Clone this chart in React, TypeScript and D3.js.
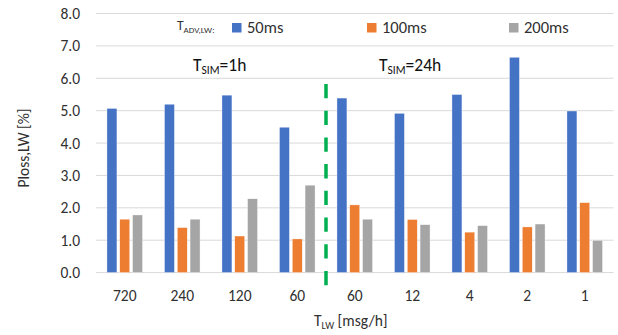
import React from 'react';
import * as d3 from 'd3';

const categories = ['720', '240', '120', '60', '60', '12', '4', '2', '1'];
const seriesNames = ['50ms', '100ms', '200ms'];
const values50 = [5.07, 5.2, 5.48, 4.49, 5.39, 4.92, 5.5, 6.65, 4.99];
const values100 = [1.65, 1.39, 1.13, 1.04, 2.09, 1.64, 1.25, 1.41, 2.16];
const values200 = [1.78, 1.65, 2.28, 2.7, 1.65, 1.48, 1.45, 1.5, 1.0];
const yTicks = [0, 1, 2, 3, 4, 5, 6, 7, 8];

const colors = ['#4472c4', '#ed7d31', '#a5a5a5'];
const FONT = 'Carlito, Calibri, Lato, sans-serif';
const TEXT = '#303030';

const App = () => {
  const width = 618;
  const height = 335;
  const left = 96;
  const right = 613.5;
  const top = 13.5;
  const bottom = 272.6;

  const series = [values50, values100, values200];

  const x0 = d3.scaleBand<number>()
    .domain(d3.range(categories.length))
    .range([left, right])
    .paddingInner(0.381)
    .paddingOuter(0.1905);

  const x1 = d3.scaleBand<number>()
    .domain(d3.range(seriesNames.length))
    .range([0, x0.bandwidth()])
    .paddingInner(0.219);

  const y = d3.scaleLinear().domain([0, 8]).range([bottom, top]);

  // divider between the 1h and 24h runs
  const divX = left + x0.step() * 4;

  const legendPos = [232, 367, 509];

  return (
    <svg width={width} height={height} style={{ position: 'absolute', left: 0, top: 0 }} fontFamily={FONT}>
      <rect width={width} height={height} fill="#fff" />
      {yTicks.map(t => (
        <g key={t}>
          <line x1={left} x2={right} y1={y(t)} y2={y(t)} stroke="#d9d9d9" strokeWidth={1} />
          <text x={80} y={y(t)} dy="0.36em" textAnchor="end" fontSize={15.5} fill={TEXT}>
            {t.toFixed(1)}
          </text>
        </g>
      ))}

      {categories.map((c, i) => (
        <g key={i} transform={`translate(${x0(i)},0)`}>
          {series.map((s, j) => (
            <rect
              key={j}
              x={x1(j)}
              y={y(s[i])}
              width={x1.bandwidth()}
              height={bottom - y(s[i])}
              fill={colors[j]}
              stroke="#fff"
              strokeWidth={0.4}
            />
          ))}
          <text x={x0.bandwidth() / 2} y={301} textAnchor="middle" fontSize={15.5} fill={TEXT}>
            {c}
          </text>
        </g>
      ))}

      <line x1={divX} x2={divX} y1={84} y2={287} stroke="#00b050" strokeWidth={3.5} strokeDasharray="14.3 12.4" />

      {/* legend */}
      <text x={177} y={30} fontSize={13.5} fill={TEXT}>
        T<tspan fontSize={9} dy={3}>ADV,LW:</tspan>
      </text>
      {seriesNames.map((n, j) => (
        <g key={n}>
          <rect x={legendPos[j]} y={23} width={9.5} height={9.5} fill={colors[j]} />
          <text x={legendPos[j] + 15} y={33} fontSize={16.5} fill={TEXT}>{n}</text>
        </g>
      ))}

      <text x={193} y={71} fontSize={17.5} fill="#111">
        T<tspan fontSize={11.5} dy={3}>SIM</tspan><tspan dy={-3}>=1h</tspan>
      </text>
      <text x={379} y={71} fontSize={17.5} fill="#111">
        T<tspan fontSize={11.5} dy={3}>SIM</tspan><tspan dy={-3}>=24h</tspan>
      </text>

      <text x={314} y={326} fontSize={15.5} fill={TEXT}>
        T<tspan fontSize={10} dy={3}>LW</tspan><tspan dy={-3}> [msg/h]</tspan>
      </text>

      <text transform="translate(29,148) rotate(-90)" textAnchor="middle" fontSize={15.5} fill={TEXT}>
        Ploss,LW [%]
      </text>
    </svg>
  );
};

export default App;
